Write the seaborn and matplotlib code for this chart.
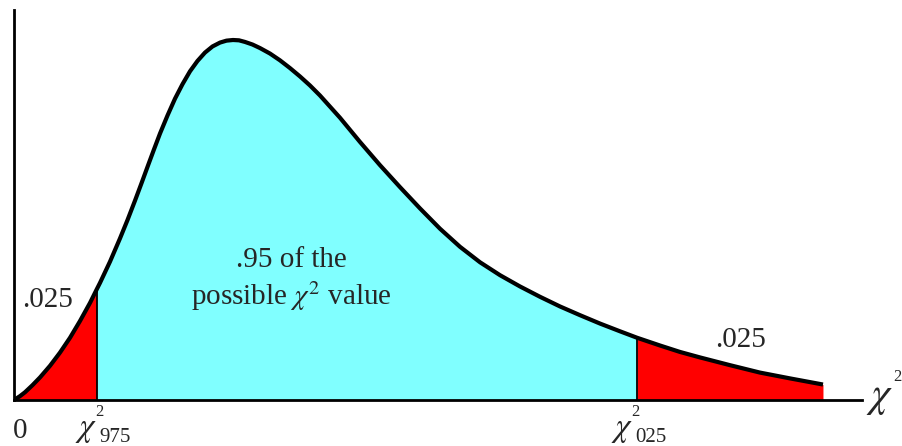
import numpy as np
import matplotlib
matplotlib.use("Agg")
import matplotlib.pyplot as plt
import seaborn as sns

# curve (chi-square value, density)
chi_x = [0.000, 0.162, 0.297, 0.500, 0.703, 0.973, 1.243, 1.514, 1.784, 2.054,
         2.24, 2.324, 2.595, 2.865, 3.068, 3.270, 3.446, 3.622, 3.784, 3.946,
         4.149, 4.351, 4.554, 4.757, 4.959, 5.162, 5.365, 5.568, 5.743, 5.919,
         6.081, 6.243, 6.446, 6.649, 6.919, 7.189, 7.459, 7.730, 8.000, 8.270,
         8.811, 9.351, 9.892, 10.432, 10.973, 11.514, 12.054, 12.595, 13.135,
         13.676, 14.216, 14.757, 15.297, 15.838, 16.378, 16.84, 17.459, 18.000,
         18.541, 19.351, 20.162, 20.973, 21.865]
density = [0.0000, 0.0012, 0.0024, 0.0046, 0.0070, 0.0106, 0.0147, 0.0193, 0.0245,
           0.0301, 0.0344, 0.0363, 0.0429, 0.0501, 0.0558, 0.0618, 0.0672, 0.0727,
           0.0777, 0.0826, 0.0882, 0.0934, 0.0979, 0.1019, 0.1051, 0.1077, 0.1096,
           0.1108, 0.1114, 0.1116, 0.1115, 0.1110, 0.1102, 0.1091, 0.1074, 0.1053,
           0.1029, 0.1003, 0.0975, 0.0944, 0.0875, 0.0800, 0.0728, 0.0660, 0.0594,
           0.0531, 0.0475, 0.0427, 0.0387, 0.0352, 0.0320, 0.0290, 0.0263, 0.0237,
           0.0213, 0.0193, 0.0169, 0.0149, 0.0132, 0.0108, 0.0085, 0.0067, 0.0048]

# critical values
chi_975 = 2.24
chi_025 = 16.84

tail_label = ".025"
mid_label = [".95 of the", r"possible $\chi^2$ value"]
crit_subs = ["975", "025"]

sns.set_style("white")
plt.rcParams["font.family"] = ["Liberation Serif", "DejaVu Serif"]
plt.rcParams["mathtext.fontset"] = "stix"

x = np.array(chi_x)
y = np.array(density)

W, H = 902, 446
fig = plt.figure(figsize=(W / 100, H / 100), dpi=100)
ax = fig.add_axes([14 / W, 46 / H, 848 / W, 390 / H])

red = "#ff0000"
cyan = "#80ffff"
ax.fill_between(x, 0, y, where=x <= chi_975, color=red, lw=0)
ax.fill_between(x, 0, y, where=(x >= chi_975) & (x <= chi_025), color=cyan, lw=0)
ax.fill_between(x, 0, y, where=x >= chi_025, color=red, lw=0)

# cut lines
for c in [chi_975, chi_025]:
    ax.vlines(c, 0, y[chi_x.index(c)], color="black", lw=1.3)

sns.lineplot(x=x, y=y, ax=ax, color="black", lw=3.0, sort=False,
             solid_joinstyle="round", solid_capstyle="butt")

ax.set_xlim(0, 22.92)
ax.set_ylim(0, 0.1209)
ax.set_xticks([])
ax.set_yticks([])
ax.set_xlabel("")
ax.set_ylabel("")
sns.despine(ax=ax)
for s in ["left", "bottom"]:
    ax.spines[s].set_linewidth(2.0)
    ax.spines[s].set_color("black")


def put(px, py, s, size, ha="left"):
    # place text by pixel position (baseline)
    fig.text(px / W, 1 - py / H, s, fontsize=size, ha=ha, va="baseline")


fs = 21
put(48, 307, tail_label, fs, ha="center")
put(741, 347, tail_label, fs, ha="center")
put(291, 267, mid_label[0], fs, ha="center")
put(291, 305, mid_label[1], fs, ha="center")
put(20, 438, "0", fs, ha="center")

# critical value labels: chi, superscript 2, subscript
for left, sub in zip([75, 611], crit_subs):
    put(left, 436, r"$\chi$", 24)
    put(left + 20, 416, "2", 12)
    put(left + 24, 442, sub, 15)

# axis label
put(866, 406, r"$\chi$", 30)
put(893, 381, "2", 12)

fig.savefig("out.png", dpi=100)
